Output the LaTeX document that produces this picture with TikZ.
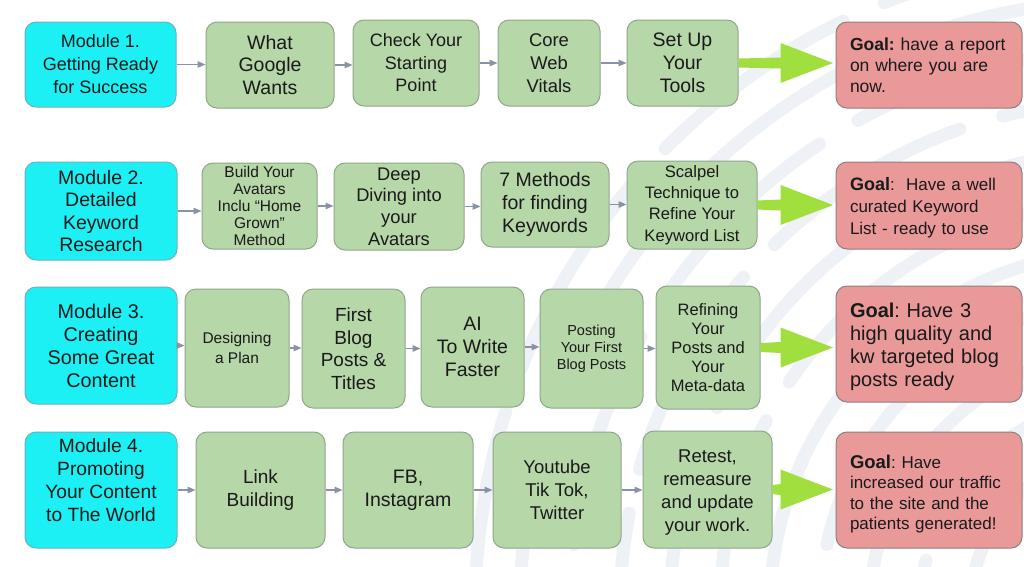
\documentclass[tikz,border=0pt]{standalone}
\usepackage{fontspec}
\setmainfont{Liberation Sans}
\usetikzlibrary{arrows.meta,calc}
\frenchspacing
\definecolor{modfill}{HTML}{1CF0F4}
\definecolor{modline}{HTML}{6FAFBF}
\definecolor{gfill}{HTML}{B6D7A8}
\definecolor{gline}{HTML}{8FA68A}
\definecolor{rfill}{HTML}{EA9999}
\definecolor{rline}{HTML}{8E7E7E}
\definecolor{garrowc}{HTML}{A0DF3E}
\definecolor{conncol}{HTML}{8A93A6}
\definecolor{txt}{HTML}{1A1A1A}
\definecolor{stripe}{HTML}{EEF1F6}
\newcommand\greenarrow[2]{%
  \fill[garrowc] let \p1=(#1.east), \p2=(#2.west) in
    (\x1,\y1+4.5pt) -- (\x2-55pt,\y1+5.5pt) -- (\x2-55pt,\y1+20pt) -- (\x2-2.5pt,\y1)
    -- (\x2-55pt,\y1-20pt) -- (\x2-55pt,\y1-5.5pt) -- (\x1,\y1-4.5pt) -- cycle;}
\begin{document}
\begin{tikzpicture}[x=1pt,y=-1pt,
  fs/.style 2 args={font=\fontsize{#1}{#2}\selectfont},
  base/.style={rounded corners=11pt, line width=1pt, inner sep=0pt, align=center, text=txt},
  modbox/.style={base, fill=modfill, draw=modline},
  stepbox/.style={base, fill=gfill, draw=gline},
  goalbox/.style={base, fill=rfill, draw=rline, align=left, text width=158pt, inner xsep=14pt},
  sz/.style 2 args={minimum width=#1pt, minimum height=#2pt},
  conn/.style={draw=conncol, line width=1.1pt, -{Triangle[length=8pt,width=6.5pt]}},
]
\useasboundingbox (0,0) rectangle (1024,566);
\fill[white] (0,0) rectangle (1024,566);
\begin{scope}
  \clip (0,0) rectangle (1024,566);
  \foreach \r/\ph in {160/0, 210/40, 260/90, 310/20, 360/150, 410/60, 460/200, 510/110, 560/30, 610/250, 655/80} {
    \draw[stripe, line width=13pt, line cap=round, dash pattern=on 220pt off 45pt, dash phase=\ph pt] (1130,610) circle[radius=\r];
  }
\end{scope}

% Row 1
\node[modbox, sz={151}{85}, fs={18}{23}] (m1) at (100.5,64.5) {Module 1.\\Getting Ready\\for Success};
\node[stepbox, sz={128}{86}, fs={19.5}{22.7}] (a1) at (270,65) {What\\Google\\Wants};
\node[stepbox, sz={126}{86}, fs={18}{22.5}] (a2) at (416,63) {Check Your\\Starting\\Point};
\node[stepbox, sz={102}{86}, fs={18.4}{23}] (a3) at (549,63) {Core\\Web\\Vitals};
\node[stepbox, sz={111}{86}, fs={19.5}{23}] (a4) at (682.5,63) {Set Up\\Your\\Tools};
\node[goalbox, sz={186}{86}, fs={17.5}{21}] (g1) at (929,65) {\textbf{Goal:} have a report\\on where you are\\now.};

% Row 2
\node[modbox, sz={152}{98}, fs={19.5}{22.3}] (m2) at (101,211) {Module 2.\\Detailed\\Keyword\\Research};
\node[stepbox, sz={115}{86}, fs={15.5}{16.8}] (b1) at (259.5,206) {Build Your\\Avatars\\Inclu “Home\\Grown”\\Method};
\node[stepbox, sz={130}{87}, fs={18.3}{21.7}] (b2) at (399,206.5) {Deep\\Diving into\\your\\Avatars};
\node[stepbox, sz={128}{85}, fs={19.5}{23}] (b3) at (545,204.5) {7 Methods\\for finding\\Keywords};
\node[stepbox, sz={130}{88}, fs={16.6}{21.3}] (b4) at (692,205) {Scalpel\\Technique to\\Refine Your\\Keyword List};
\node[goalbox, sz={186}{87}, fs={17}{22}] (g2) at (929,205.5) {\mbox{}\\[-4pt]{\fontsize{18}{22}\selectfont\textbf{Goal}}:\ \ Have a well\\curated Keyword\\List - ready to use};

% Row 3
\node[modbox, sz={152}{117}, fs={19.8}{23}] (m3) at (101,345.5) {Module 3.\\Creating\\Some Great\\Content};
\node[stepbox, sz={104}{118}, fs={15.5}{20}] (c1) at (237,348) {Designing\\a Plan};
\node[stepbox, sz={103}{119}, fs={19}{22.5}] (c2) at (353.5,348.5) {First\\Blog\\Posts \&\\Titles};
\node[stepbox, sz={103}{120}, fs={19.5}{23}] (c3) at (472.5,347) {AI\\To Write\\Faster};
\node[stepbox, sz={103}{119}, fs={14.5}{17}] (c4) at (591.5,348.5) {Posting\\Your First\\Blog Posts};
\node[stepbox, sz={104}{123}, fs={16.5}{19}] (c5) at (708,347.5) {Refining\\Your\\Posts and\\Your\\Meta-data};
\node[goalbox, sz={186}{116}, fs={20}{23}] (g3) at (929,344) {\mbox{}\\[-2pt]\textbf{Goal}: Have 3\\high quality and\\kw targeted blog\\posts ready};

% Row 4
\node[modbox, sz={152}{116}, fs={19.2}{23}] (m4) at (101,490) {Module 4.\\Promoting\\Your Content\\to The World\\[-4pt]\mbox{}};
\node[stepbox, sz={129}{116}, fs={19}{23}] (d1) at (260.5,490) {Link\\Building};
\node[stepbox, sz={130}{116}, fs={19.5}{23}] (d2) at (408,490) {FB,\\Instagram};
\node[stepbox, sz={128}{116}, fs={18.5}{23}] (d3) at (557,490) {Youtube\\Tik Tok,\\Twitter};
\node[stepbox, sz={129}{117}, fs={18.5}{23}] (d4) at (707.5,489.5) {\mbox{}\\[-4pt]Retest,\\remeasure\\and update\\your work.};
\node[goalbox, sz={186}{116}, fs={17}{20.5}] (g4) at (929,490) {\mbox{}\\[1pt]{\fontsize{18.5}{20.5}\selectfont\textbf{Goal}}: Have\\increased our traffic\\to the site and the\\patients generated!};

% grey connectors
\foreach \s/\t in {m1/a1, a1/a2, a2/a3, a3/a4, m2/b1, b1/b2, b2/b3, b3/b4, m3/c1, c1/c2, c2/c3, c3/c4, c4/c5, m4/d1, d1/d2, d2/d3, d3/d4} {
  \draw[conn] (\s.east) -- (\s.east -| \t.west);
}

% green arrows
\greenarrow{a4}{g1}
\greenarrow{b4}{g2}
\greenarrow{c5}{g3}
\greenarrow{d4}{g4}
\end{tikzpicture}
\end{document}
